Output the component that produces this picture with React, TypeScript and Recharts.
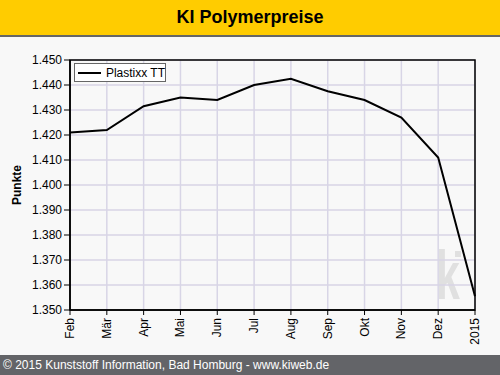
import { CartesianGrid, Line, LineChart, XAxis, YAxis } from "recharts";

const months = ["Feb", "Mär", "Apr", "Mai", "Jun", "Jul", "Aug", "Sep", "Okt", "Nov", "Dez", "2015"];
const plastixx = [1421, 1422, 1431.5, 1435, 1434, 1440, 1442.5, 1437.5, 1434, 1427, 1411, 1355.5];
const yTicks = [1350, 1360, 1370, 1380, 1390, 1400, 1410, 1420, 1430, 1440, 1450];

const data = months.map((m, i) => ({ month: m, value: plastixx[i] }));

const font = "'Liberation Sans', Arial, sans-serif";

const fmt = (v: number) => `${Math.floor(v / 1000)}.${String(v % 1000).padStart(3, "0")}`;

function MonthTick(props: any) {
  const { x, y, payload } = props;
  return (
    <text
      x={0}
      y={0}
      transform={`translate(${x + 4},${y + 1}) rotate(-90)`}
      textAnchor="end"
      fontSize={12}
      fontFamily={font}
      fill="#000"
    >
      {payload.value}
    </text>
  );
}

export default function App() {
  return (
    <div style={{ position: "fixed", left: 0, top: 0, width: 500, height: 375, background: "#f8f8f8", overflow: "hidden" }}>
      <div
        style={{
          position: "absolute",
          left: 0,
          top: 0,
          width: 500,
          height: 35,
          background: "#ffcc00",
          borderBottom: "2px solid #666",
          textAlign: "center",
          lineHeight: "35px",
          fontFamily: font,
          fontWeight: "bold",
          fontSize: 18,
          color: "#000",
        }}
      >
        KI Polymerpreise
      </div>
      {/* kiweb watermark */}
      <div
        style={{
          position: "absolute",
          left: 436,
          top: 236,
          fontFamily: font,
          fontWeight: "bold",
          fontSize: 69,
          lineHeight: "80px",
          color: "#e0e0e0",
          transform: "scaleX(0.62)",
          transformOrigin: "left top",
        }}
      >
        k
      </div>
      <div style={{ position: "absolute", left: 455, top: 251, width: 6, height: 6, background: "#e0e0e0" }} />
      <div style={{ position: "absolute", left: 0, top: 0 }}>
        <LineChart width={500} height={375} data={data} margin={{ top: 60, right: 25, bottom: 20, left: 10 }}>
          <CartesianGrid stroke="#d8d5e6" strokeWidth={1.5} />
          <XAxis
            dataKey="month"
            interval={0}
            tick={<MonthTick />}
            tickSize={5}
            height={45}
            axisLine={{ stroke: "#000", strokeWidth: 1.5 }}
            tickLine={{ stroke: "#000" }}
          />
          <YAxis
            domain={[1350, 1450]}
            ticks={yTicks}
            interval={0}
            tickFormatter={fmt}
            width={60}
            tickSize={6}
            tick={{ fontSize: 12, fontFamily: font, fill: "#000" }}
            axisLine={{ stroke: "#000", strokeWidth: 1.5 }}
            tickLine={{ stroke: "#000" }}
            label={{
              value: "Punkte",
              angle: -90,
              position: "insideLeft",
              offset: 7,
              style: { fontSize: 12, fontWeight: "bold", fontFamily: font, fill: "#000", textAnchor: "middle" },
            }}
          />
          <Line
            dataKey="value"
            name="Plastixx TT"
            stroke="#000"
            strokeWidth={2}
            dot={false}
            activeDot={false}
            isAnimationActive={false}
          />
        </LineChart>
      </div>
      <div style={{ position: "absolute", left: 60, top: 59, width: 416, height: 252, pointerEvents: "none" }}>
        <svg width={416} height={252}>
          <rect x={10} y={1} width={405} height={250} fill="none" stroke="#000" strokeWidth={1.5} />
        </svg>
      </div>
      <div
        style={{
          position: "absolute",
          left: 74,
          top: 63,
          width: 90,
          height: 17,
          display: "flex",
          alignItems: "center",
          whiteSpace: "nowrap",
          border: "1px solid #666",
          background: "#fff",
          fontFamily: font,
          fontSize: 12,
          color: "#000",
        }}
      >
        <span style={{ display: "inline-block", width: 23, height: 2, background: "#000", margin: "0 5px 0 3px" }} />
        Plastixx TT
      </div>
      <div
        style={{
          position: "absolute",
          left: 0,
          top: 355,
          width: 500,
          height: 20,
          background: "#636468",
          color: "#fff",
          fontFamily: font,
          fontSize: 12,
          lineHeight: "20px",
          paddingLeft: 3,
        }}
      >
        © 2015 Kunststoff Information, Bad Homburg - www.kiweb.de
      </div>
    </div>
  );
}
